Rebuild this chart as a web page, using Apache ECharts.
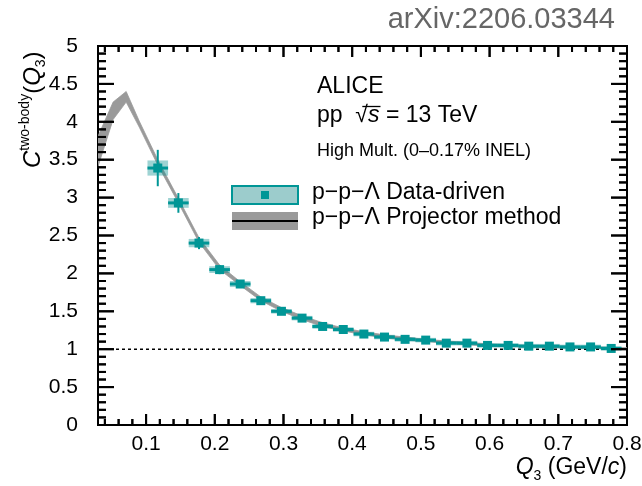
<!DOCTYPE html>
<html><head><meta charset="utf-8">
<script src="https://cdn.jsdelivr.net/npm/echarts@6/dist/echarts.min.js"></script>
<style>html,body{margin:0;padding:0;background:#fff}#c{width:642px;height:486px}</style>
</head><body><div id="c"></div>
<script>
// ---- data ----
const q3 = [0.117,0.147,0.177,0.207,0.237,0.267,0.297,0.327,0.357,0.387,0.417,0.447,0.477,0.507,0.537,0.567,0.597,0.627,0.657,0.687,0.717,0.747,0.777];
const cData = [3.39,2.93,2.40,2.05,1.86,1.64,1.50,1.41,1.30,1.26,1.20,1.16,1.13,1.12,1.08,1.08,1.05,1.05,1.04,1.04,1.03,1.03,1.01];
const statErr = [0.24,0.13,0.08,0.06,0.045,0.04,0.035,0.03,0.03,0.025,0.025,0.02,0.02,0.02,0.02,0.02,0.02,0.02,0.02,0.02,0.02,0.02,0.02];
const systErr = [0.10,0.065,0.055,0.045,0.04,0.035,0.03,0.03,0.03,0.03,0.03,0.03,0.03,0.03,0.03,0.03,0.03,0.03,0.03,0.03,0.03,0.03,0.03];
const binHalfWidth = [0.015];
const projQ    = [0.03,0.052,0.071,0.09,0.117,0.147,0.177,0.207,0.237,0.267,0.297,0.327,0.357,0.387,0.417,0.447,0.477,0.507,0.55,0.60,0.65,0.70,0.75,0.80];
const projLow  = [3.41,4.03,4.26,3.93,3.43,2.93,2.41,2.05,1.84,1.64,1.50,1.39,1.30,1.24,1.19,1.15,1.12,1.10,1.07,1.04,1.03,1.02,1.01,1.00];
const projHigh = [3.81,4.26,4.40,4.01,3.50,2.99,2.47,2.11,1.89,1.69,1.55,1.44,1.35,1.28,1.23,1.19,1.16,1.13,1.10,1.07,1.05,1.04,1.03,1.02];
const refLineQ = [0.03, 0.8];
const refLineC = [1, 1];
const xMajorTicks = [0.1,0.2,0.3,0.4,0.5,0.6,0.7,0.8];
const xMinorTicks = [0.04,0.06,0.08,0.12,0.14,0.16,0.18,0.22,0.24,0.26,0.28,0.32,0.34,0.36,0.38,0.42,0.44,0.46,0.48,0.52,0.54,0.56,0.58,0.62,0.64,0.66,0.68,0.72,0.74,0.76,0.78];
const xTickLabels = ['0.1','0.2','0.3','0.4','0.5','0.6','0.7','0.8'];
const yMajorTicks = [0,0.5,1,1.5,2,2.5,3,3.5,4,4.5,5];
const yMinorTicks = [0.1,0.2,0.3,0.4,0.6,0.7,0.8,0.9,1.1,1.2,1.3,1.4,1.6,1.7,1.8,1.9,2.1,2.2,2.3,2.4,2.6,2.7,2.8,2.9,3.1,3.2,3.3,3.4,3.6,3.7,3.8,3.9,4.1,4.2,4.3,4.4,4.6,4.7,4.8,4.9];
const xRange = [0.03, 0.8];
const yRange = [0, 5];

// ---- style ----
const FF = "'Liberation Sans', Arial, Helvetica, sans-serif";
const TEAL = '#009696';
const BOXFILL = 'rgba(0,140,140,0.38)';
const GRAY = '#9a9a9a';

const mctx = document.createElement('canvas').getContext('2d');
function fontOf(p){ return (p.italic ? 'italic ' : '') + p.size + 'px ' + FF; }
function tw(text, font){ mctx.font = font; return mctx.measureText(text).width; }
function layout(list, x0){
  let x = x0; const out = [];
  for (const p of list){
    const f = fontOf(p); const w = tw(p.t, f);
    out.push({type:'text', x:x, y:(p.dy||0) - 0.35*p.size, style:{text:p.t, font:f, fill:'#000', align:'left', verticalAlign:'middle'}});
    x += w;
  }
  return {els:out, width:x - x0};
}

const chart = echarts.init(document.getElementById('c'));

const xTitleParts = [{t:'Q',size:23,italic:true},{t:'3',size:14,dy:5},{t:' (GeV/',size:23},{t:'c',size:23,italic:true},{t:')',size:23}];
const xt = layout(xTitleParts, 0);
const yTitleParts = [{t:'C',size:24,italic:true},{t:'two-body',size:14,dy:-12},{t:'(',size:24},{t:'Q',size:24,italic:true},{t:'3',size:14,dy:4},{t:')',size:24}];
const yt = layout(yTitleParts, 0);
const ppParts = [{t:'pp  √',size:23},{t:'s',size:23,italic:true},{t:' = 13 TeV',size:23}];
const pp = layout(ppParts, 0);
const sqrtStart = tw('pp  ', fontOf(ppParts[0])) + tw('√', fontOf(ppParts[0]))*0.55;
const sEnd = tw('pp  √', fontOf(ppParts[0])) + tw('s', fontOf(ppParts[1])) + 1;

// ticks drawn as thin filled rectangles (inside the frame, on all four sides)
function tickRects(toPx){
  const ch=[];
  const vt=(p,len)=>{ ch.push({type:'rect', z:100, shape:{x:p[0]-1, y:len<0 ? p[1]+len : p[1], width:2, height:Math.abs(len)}, style:{fill:'#000'}}); };
  const ht=(p,len)=>{ ch.push({type:'rect', z:100, shape:{x:len<0 ? p[0]+len : p[0], y:p[1]-1, width:Math.abs(len), height:2}, style:{fill:'#000'}}); };
  xMajorTicks.forEach(v=>{ vt(toPx([v,yRange[0]]),-11); vt(toPx([v,yRange[1]]),11); });
  xMinorTicks.forEach(v=>{ vt(toPx([v,yRange[0]]),-6); vt(toPx([v,yRange[1]]),6); });
  yMajorTicks.forEach(v=>{ ht(toPx([xRange[0],v]),16); ht(toPx([xRange[1],v]),-16); });
  yMinorTicks.forEach(v=>{ ht(toPx([xRange[0],v]),8); ht(toPx([xRange[1],v]),-8); });
  return ch;
}

function frameItem(params, api){
  const ch = tickRects(v=>api.coord(v));
  xMajorTicks.forEach((v,i)=>{
    const p = api.coord([v, yRange[0]]);
    ch.push({type:'text', x:p[0], y:p[1]+9, style:{text:xTickLabels[i], font:'21px '+FF, fill:'#000', align:'center', verticalAlign:'top'}});
  });
  return {type:'group', children:ch};
}

const option = {
  animation:false,
  grid:{left:98, right:15, top:46, bottom:61, show:true, borderColor:'#000', borderWidth:2},
  xAxis:[{
    type:'value', min:xRange[0], max:xRange[1],
    axisLine:{show:false, onZero:false}, axisTick:{show:false}, axisLabel:{show:false}, splitLine:{show:false}
  }],
  yAxis:[{
    type:'value', min:yRange[0], max:yRange[1], interval:0.5,
    axisLine:{show:false, onZero:false}, axisTick:{show:false},
    axisLabel:{show:true, margin:20, fontSize:21, color:'#000', fontFamily:FF},
    splitLine:{show:false}
  }],
  series:[
    { // projector band
      type:'custom', clip:true, z:2,
      data:[[0.4, 2]],
      renderItem:(params, api)=>{
        const pts=[];
        for(let i=0;i<projQ.length;i++) pts.push(api.coord([projQ[i], projHigh[i]]));
        for(let i=projQ.length-1;i>=0;i--) pts.push(api.coord([projQ[i], projLow[i]]));
        return {type:'polygon', shape:{points:pts}, style:{fill:GRAY, stroke:GRAY, lineWidth:0.8}};
      }
    },
    { // reference line at 1
      type:'line', z:3,
      data: refLineQ.map((q,i)=>[q, refLineC[i]]),
      symbol:'none', lineStyle:{color:'#000', width:1.6, type:[3,3]}
    },
    { // systematic boxes
      type:'custom', clip:true, z:4,
      data: q3.map((q,i)=>[q, cData[i], systErr[i]]),
      renderItem:(params, api)=>{
        const x=api.value(0), y=api.value(1), s=api.value(2), hw=binHalfWidth[0];
        const p1=api.coord([x-hw, y+s]), p2=api.coord([x+hw, y-s]);
        return {type:'rect', shape:{x:p1[0], y:p1[1], width:p2[0]-p1[0], height:p2[1]-p1[1]}, style:{fill:BOXFILL}};
      }
    },
    { // stat error bars
      type:'custom', clip:true, z:5,
      data: q3.map((q,i)=>[q, cData[i], statErr[i]]),
      renderItem:(params, api)=>{
        const x=api.value(0), y=api.value(1), e=api.value(2), hw=binHalfWidth[0];
        const a=api.coord([x-hw, y]), b=api.coord([x+hw, y]);
        const c=api.coord([x, y+e]), d=api.coord([x, y-e]);
        return {type:'group', children:[
          {type:'line', shape:{x1:a[0], y1:a[1], x2:b[0], y2:b[1]}, style:{stroke:TEAL, lineWidth:3}},
          {type:'line', shape:{x1:c[0], y1:c[1], x2:d[0], y2:d[1]}, style:{stroke:TEAL, lineWidth:2}}
        ]};
      }
    },
    { // markers
      type:'scatter', z:6,
      data: q3.map((q,i)=>[q, cData[i]]),
      symbol:'rect', symbolSize:9, itemStyle:{color:TEAL, opacity:1}
    },
    { // frame ticks + x tick labels
      type:'custom', clip:false, z:10, data:[[0.4, 2]], renderItem:frameItem
    }
  ]
};
chart.setOption(option);

const tickEls = tickRects(v=>chart.convertToPixel({gridIndex:0}, v));
chart.setOption({
  graphic:[
    {type:'text', x:615, y:20, style:{text:'arXiv:2206.03344', font:'29px '+FF, fill:'#666', align:'right', verticalAlign:'middle'}},
    {type:'text', x:317, y:95 - 0.35*23, style:{text:'ALICE', font:'23px '+FF, fill:'#000', align:'left', verticalAlign:'middle'}},
    {type:'group', x:317, y:124, children: pp.els.concat([
      {type:'line', shape:{x1:sqrtStart, y1:-17.5, x2:sEnd, y2:-17.5}, style:{stroke:'#000', lineWidth:1.3}}
    ])},
    {type:'text', x:317, y:157 - 0.35*18, style:{text:'High Mult. (0–0.17% INEL)', font:'18px '+FF, fill:'#000', align:'left', verticalAlign:'middle'}},
    {type:'rect', shape:{x:232, y:186, width:66, height:18}, style:{fill:'#9ccccc', stroke:TEAL, lineWidth:2}},
    {type:'rect', shape:{x:261, y:191, width:8, height:8}, style:{fill:TEAL}},
    {type:'text', x:312, y:193, style:{text:'p−p−Λ Data-driven', font:'23px '+FF, fill:'#000', align:'left', verticalAlign:'middle'}},
    {type:'rect', shape:{x:232, y:212, width:66, height:18}, style:{fill:GRAY}},
    {type:'line', shape:{x1:232, y1:221, x2:298, y2:221}, style:{stroke:'#000', lineWidth:2}},
    {type:'text', x:312, y:218, style:{text:'p−p−Λ Projector method', font:'23px '+FF, fill:'#000', align:'left', verticalAlign:'middle'}},
    {type:'group', x:627 - xt.width, y:476, children: xt.els},
    {type:'group', x:42, y:168, rotation:Math.PI/2, children: yt.els},
    {type:'group', z:100, children: tickEls}
  ]
});
</script>
</body></html>
